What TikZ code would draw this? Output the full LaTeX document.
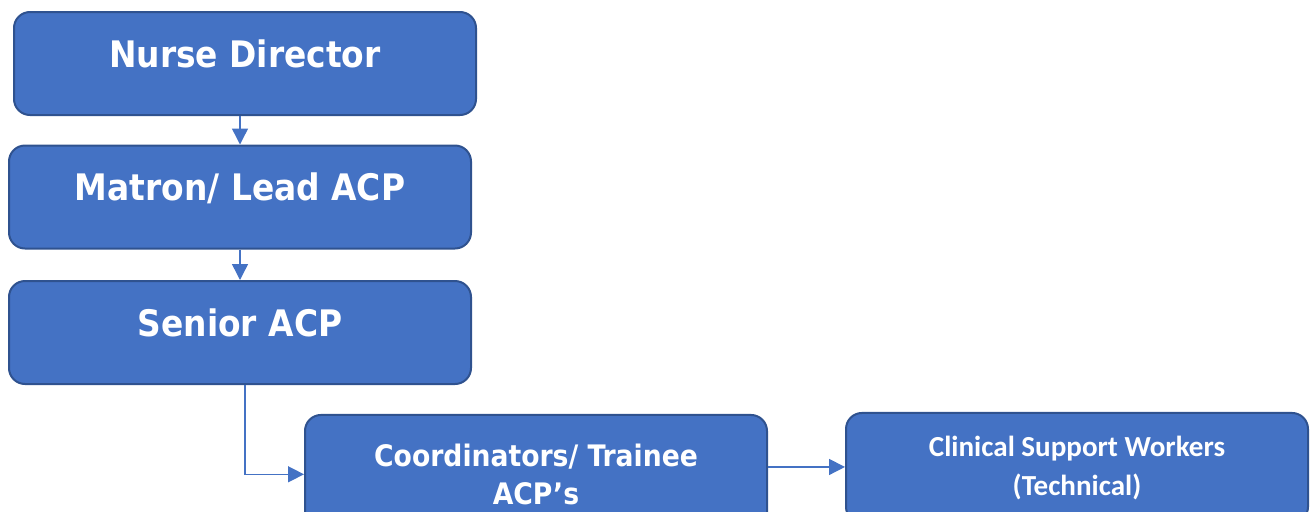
\documentclass[tikz,border=0pt]{standalone}
\usepackage{fontspec}
\usetikzlibrary{arrows.meta}
\newfontfamily\condfont{DejaVu Sans Condensed}
\newfontfamily\calfont{Carlito}
\definecolor{boxblue}{HTML}{4472C4}
\definecolor{boxedge}{HTML}{2F528F}

\begin{document}
\begin{tikzpicture}[x=0.75pt,y=-0.75pt,
  rank/.style={draw=boxedge,line width=1.5pt,fill=boxblue,rounded corners=12pt,text=white,minimum width=346.5pt,inner sep=0pt},
  toprank/.style={rank,font=\condfont\bfseries\fontsize{27.4}{33}\selectfont,minimum height=77.25pt,text height=20pt,text depth=14.5pt},
  link/.style={draw=boxblue,line width=1.1pt,-{Triangle[length=12pt,width=12pt]}}]
\useasboundingbox (0,0) rectangle (1314,511);

% boxes
\node[toprank] (director) at (245,63.5) {Nurse Director};
\node[toprank] (lead) at (240,197) {Matron/ Lead ACP};
\node[toprank] (senior) at (240,332.5) {Senior ACP};
\node[rank,align=center,font=\condfont\bfseries\fontsize{22.2}{28.7}\selectfont,minimum height=89pt] (coord) at (536,474.3) {Coordinators/ Trainee\\ACP’s};
\node[rank,align=center,font=\calfont\bfseries\fontsize{21.8}{28.7}\selectfont,minimum height=82.4pt] (support) at (1077,467.9) {Clinical Support Workers\\(Technical)};

% arrows
\draw[link] (lead.north |- director.south) -- (lead.north);
\draw[link] (lead.south) -- (senior.north);
\draw[link] ([xshift=3.75pt]senior.south) |- (coord.west);
\draw[link] ([yshift=5.5pt]coord.east) -- ([yshift=5.5pt]coord.east -| support.west);
\end{tikzpicture}
\end{document}
